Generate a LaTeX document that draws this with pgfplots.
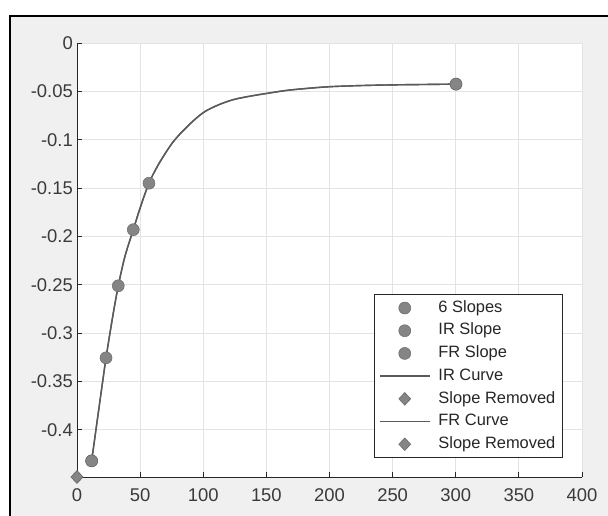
\documentclass[border=0pt]{standalone}
\usepackage{fontspec}
\setmainfont{Liberation Sans}
\usepackage{pgfplots}
\pgfplotsset{compat=1.18}
\definecolor{figbg}{HTML}{F0F0F0}
\definecolor{gridc}{HTML}{E3E3E3}
\definecolor{axc}{HTML}{262626}
\definecolor{lblc}{HTML}{3A3A3A}
\definecolor{mk}{HTML}{858585}
\definecolor{mke}{HTML}{6A6A6A}
\definecolor{crv}{HTML}{5A5A5A}
\pgfplotsset{
  markleg/.style={legend image code/.code={\draw[##1] plot coordinates {(25bp,0bp)};}},
  lineleg/.style={legend image code/.code={\draw[##1] (0bp,0bp) -- (50bp,0bp);}},
}
\pgfplotstableread{
x y
11.6 -0.432
15 -0.400
20 -0.353
23 -0.3255
28 -0.285
32.7 -0.251
38 -0.2205
44.6 -0.193
50 -0.1705
57 -0.145
65 -0.1245
76 -0.1025
88 -0.0855
100 -0.0720
112 -0.0640
124 -0.0585
137 -0.0550
150 -0.0522
165 -0.0492
180 -0.0472
200 -0.0452
225 -0.0440
250 -0.0433
275 -0.0429
300.2 -0.0425
}\curvedata
\begin{document}
\begin{tikzpicture}
\useasboundingbox (0,0) rectangle (608bp,516bp);
\fill[white] (0,0) rectangle (608bp,516bp);
\fill[figbg] (10bp,0) rectangle (608bp,500bp);
\draw[black, line width=2bp] (10bp,0) -- (10bp,500bp) -- (608bp,500bp);
\begin{axis}[
  at={(77bp,39bp)}, anchor=south west,
  scale only axis, width=505bp, height=434bp,
  xmin=0, xmax=400, ymin=-0.4487, ymax=0,
  clip=false,
  axis x line*=bottom, axis y line*=left,
  axis line style={axc, line width=0.8bp, -},
  axis background/.style={fill=white},
  grid=major, major grid style={gridc, line width=0.8bp},
  xtick={0,50,100,150,200,250,300,350,400},
  xticklabels={0,50,100,150,200,250,300,350,400},
  ytick={-0.4,-0.35,-0.3,-0.25,-0.2,-0.15,-0.1,-0.05,0},
  yticklabels={-0.4,-0.35,-0.3,-0.25,-0.2,-0.15,-0.1,-0.05,0},
  tick align=inside, major tick length=5bp,
  tick style={axc, line width=0.8bp},
  ticklabel style={font=\fontsize{18.5}{21}\selectfont, text=lblc},
  yticklabel style={inner xsep=2bp, xshift=-2bp},
  xticklabel style={inner ysep=2bp, yshift=-9bp},
  legend cell align=left,
  legend style={at={(0.962,0.0438)}, anchor=south east,
    font=\fontsize{16.5}{19}\selectfont, text=axc,
    draw=axc, line width=0.8bp, fill=white,
    inner xsep=5bp, inner ysep=2bp, row sep=0bp,
    /tikz/every odd column/.style={column sep=6bp},
    nodes={text height=12bp, text depth=3.5bp, inner ysep=3.6bp, inner xsep=2bp}},
]
\addplot[only marks, mark=*, mark size=6bp, draw=mke, fill=mk, line width=0.5bp, markleg]
  coordinates {(11.6,-0.432)(23,-0.3255)(32.7,-0.251)(44.6,-0.193)(57,-0.145)(300.2,-0.0425)};
\addlegendentry{6 Slopes}
\addplot[only marks, mark=*, mark size=6bp, draw=mke, fill=mk, line width=0.5bp, markleg]
  coordinates {(11.6,-0.432)};
\addlegendentry{IR Slope}
\addplot[only marks, mark=*, mark size=6bp, draw=mke, fill=mk, line width=0.5bp, markleg]
  coordinates {(300.2,-0.0425)};
\addlegendentry{FR Slope}
\addplot[crv, line width=1.4bp, no marks, smooth, tension=0.5, lineleg]
  table[x=x,y=y] {\curvedata};
\addlegendentry{IR Curve}
\addplot[only marks, mark=diamond*, mark size=6.3bp, mark options={xscale=1.25}, draw=mke, fill=mk, line width=0.6bp, markleg]
  coordinates {(0,-0.4487)};
\addlegendentry{Slope Removed}
\addplot[crv, line width=1.4bp, no marks, smooth, tension=0.5, lineleg]
  table[x=x,y=y] {\curvedata};
\addlegendentry{FR Curve}
\addplot[only marks, mark=diamond*, mark size=6.3bp, mark options={xscale=1.25}, draw=mke, fill=mk, line width=0.6bp, markleg]
  coordinates {(0,-0.4487)};
\addlegendentry{Slope Removed}
\end{axis}
\end{tikzpicture}
\end{document}
